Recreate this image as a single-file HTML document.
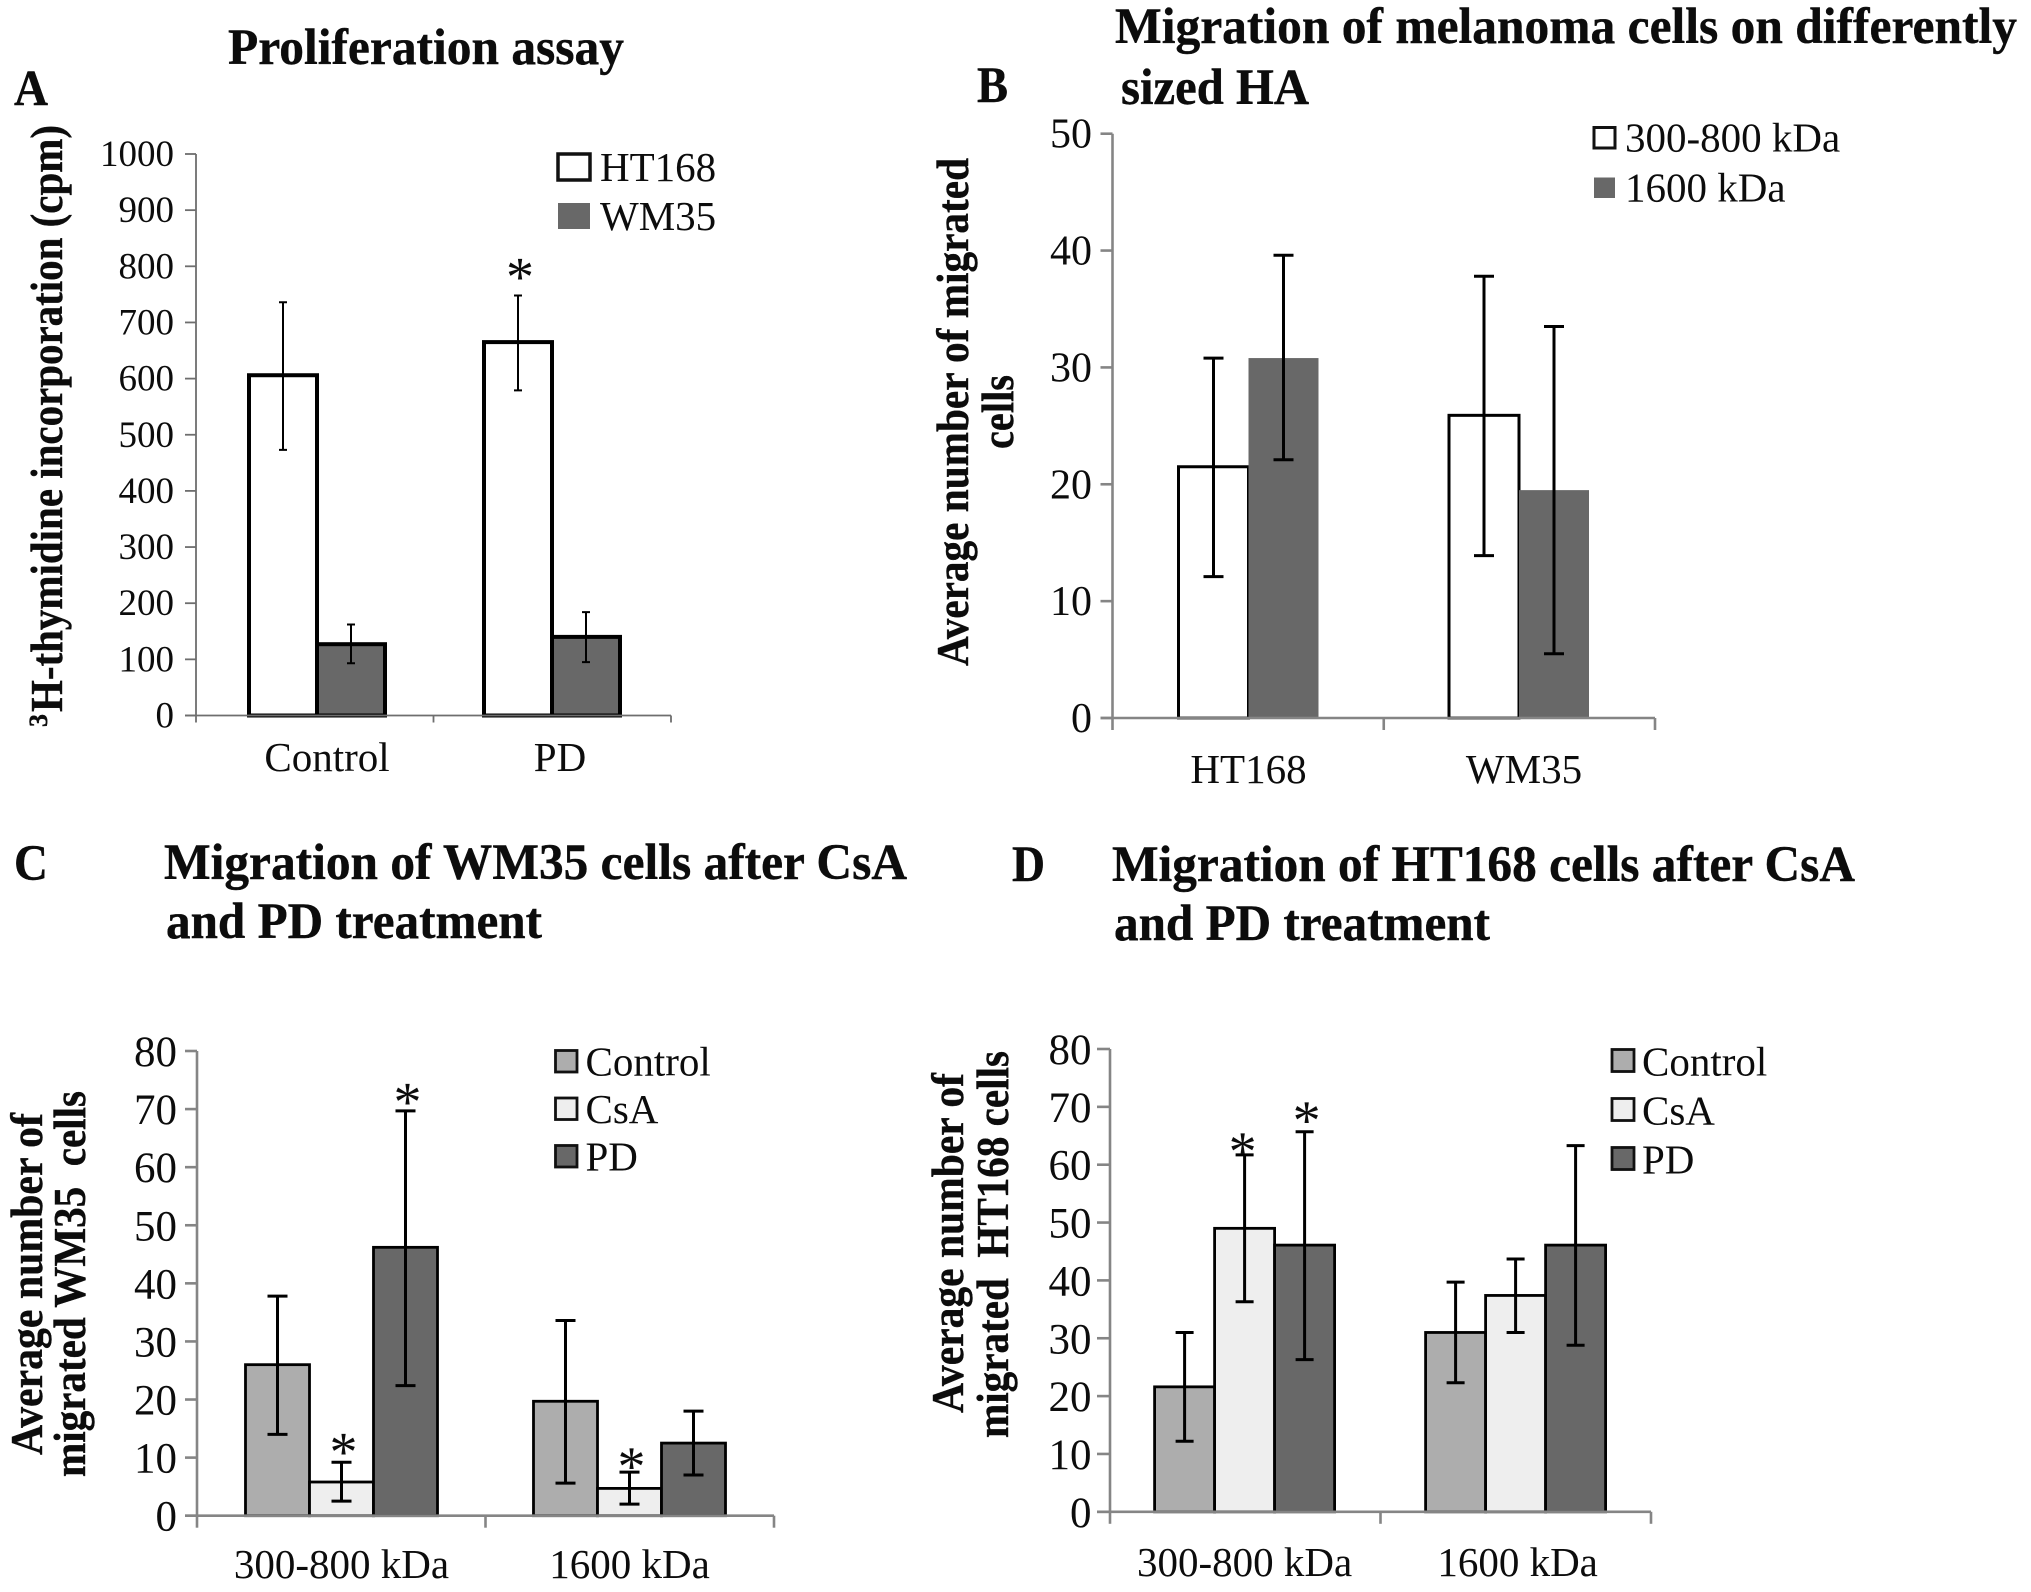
<!DOCTYPE html>
<html>
<head>
<meta charset="utf-8">
<title>Melanoma cell proliferation and migration</title>
<style>
html,body{margin:0;padding:0;background:#fff;}
svg{display:block;}
text{font-family:"Liberation Serif",serif;fill:#0c0c0c;}
.h{font-weight:bold;font-size:51px;stroke:#0c0c0c;stroke-width:.4px;}
.yt{font-weight:bold;font-size:46px;stroke:#0c0c0c;stroke-width:.4px;}
</style>
</head>
<body>
<svg id="figure" width="2031" height="1592" viewBox="0 0 2031 1592" xmlns="http://www.w3.org/2000/svg">
  <text class="h" x="228" y="64" textLength="396" lengthAdjust="spacingAndGlyphs">Proliferation assay</text>
  <text class="h" x="14" y="105" textLength="34" lengthAdjust="spacingAndGlyphs">A</text>
  <text class="yt" style="font-size:26px" transform="translate(47 727) rotate(-90)">3</text>
  <text class="yt" transform="translate(62 712) rotate(-90)" textLength="587" lengthAdjust="spacingAndGlyphs">H-thymidine incorporation (cpm)</text>

  <text class="h" x="1115" y="43" textLength="902" lengthAdjust="spacingAndGlyphs">Migration of melanoma cells on differently</text>
  <text class="h" x="1121" y="104" textLength="188" lengthAdjust="spacingAndGlyphs">sized HA</text>
  <text class="h" x="977" y="102" textLength="31" lengthAdjust="spacingAndGlyphs">B</text>
  <text class="yt" transform="translate(968 666) rotate(-90)" textLength="508" lengthAdjust="spacingAndGlyphs">Average number of migrated</text>
  <text class="yt" transform="translate(1013 449) rotate(-90)" textLength="74" lengthAdjust="spacingAndGlyphs">cells</text>

  <text class="h" x="164" y="879" textLength="743" lengthAdjust="spacingAndGlyphs">Migration of WM35 cells after CsA</text>
  <text class="h" x="166" y="938" textLength="376" lengthAdjust="spacingAndGlyphs">and PD treatment</text>
  <text class="h" x="14" y="880" textLength="34" lengthAdjust="spacingAndGlyphs">C</text>
  <text class="yt" transform="translate(42 1455) rotate(-90)" textLength="342" lengthAdjust="spacingAndGlyphs">Average number of</text>
  <text class="yt" xml:space="preserve" style="white-space:pre" transform="translate(85 1477) rotate(-90)" textLength="386" lengthAdjust="spacingAndGlyphs">migrated WM35  cells</text>

  <text class="h" x="1112" y="881" textLength="743" lengthAdjust="spacingAndGlyphs">Migration of HT168 cells after CsA</text>
  <text class="h" x="1114" y="940" textLength="376" lengthAdjust="spacingAndGlyphs">and PD treatment</text>
  <text class="h" x="1012" y="881" textLength="33" lengthAdjust="spacingAndGlyphs">D</text>
  <text class="yt" transform="translate(963 1413) rotate(-90)" textLength="340" lengthAdjust="spacingAndGlyphs">Average number of</text>
  <text class="yt" style="white-space:pre" transform="translate(1008 1438) rotate(-90)" textLength="387" lengthAdjust="spacingAndGlyphs">migrated  HT168 cells</text>
</svg>
<script>
// Panel A data
const aCategories = ['Control', 'PD'];
const aTicks = [0, 100, 200, 300, 400, 500, 600, 700, 800, 900, 1000];
const aNames = ['HT168', 'WM35'];
const aHT168 = [606, 665];
const aHT168Low = [473, 579];
const aHT168High = [736, 748];
const aWM35 = [127, 140];
const aWM35Low = [93, 95];
const aWM35High = [162, 184];
const aStarHT168 = [null, 775];
const aStarWM35 = [null, null];

// Panel B data
const bCategories = ['HT168', 'WM35'];
const bTicks = [0, 10, 20, 30, 40, 50];
const bNames = ['300-800 kDa', '1600 kDa'];
const bSmall = [21.5, 25.9];
const bSmallLow = [12.1, 13.9];
const bSmallHigh = [30.8, 37.8];
const bLarge = [30.8, 19.5];
const bLargeLow = [22.1, 5.5];
const bLargeHigh = [39.6, 33.5];

// Panel C data
const cCategories = ['300-800 kDa', '1600 kDa'];
const cTicks = [0, 10, 20, 30, 40, 50, 60, 70, 80];
const cNames = ['Control', 'CsA', 'PD'];
const cControl = [26, 19.7];
const cControlLow = [14, 5.6];
const cControlHigh = [37.8, 33.6];
const cCsA = [5.8, 4.7];
const cCsALow = [2.5, 2];
const cCsAHigh = [9.2, 7.5];
const cPD = [46.2, 12.5];
const cPDLow = [22.4, 7];
const cPDHigh = [69.7, 18];
const cStarCsA = [10.4, 7.9];
const cStarPD = [70.6, null];

// Panel D data
const dCategories = ['300-800 kDa', '1600 kDa'];
const dTicks = [0, 10, 20, 30, 40, 50, 60, 70, 80];
const dNames = ['Control', 'CsA', 'PD'];
const dControl = [21.6, 31];
const dControlLow = [12.2, 22.3];
const dControlHigh = [31, 39.7];
const dCsA = [49, 37.4];
const dCsALow = [36.3, 31];
const dCsAHigh = [61.7, 43.7];
const dPD = [46.1, 46.1];
const dPDLow = [26.3, 28.8];
const dPDHigh = [65.7, 63.3];
const dStarCsA = [61.7, null];
const dStarPD = [67, null];

const NS = 'http://www.w3.org/2000/svg';
const fig = document.getElementById('figure');
function make(tag, attrs, parent) {
  const n = document.createElementNS(NS, tag);
  for (const k in attrs) n.setAttribute(k, attrs[k]);
  parent.appendChild(n);
  return n;
}

function drawPanel(p) {
  const g = make('g', {}, fig);
  
  
  const yMaxValue = p.ticks[p.ticks.length - 1];
  const yOf = v => p.y0 - v * (p.y0 - p.yTop) / yMaxValue;
  const catX = i => p.catStart + i * p.catStep;
  const n = p.series.length;
  const barX = (c, s) => catX(c) + (s - n / 2) * p.barW;

  p.series.forEach((s, si) => {
    s.values.forEach((v, c) => {
      const r = make('rect', {
        x: barX(c, si), y: yOf(v), width: p.barW, height: p.y0 - yOf(v),
        fill: s.fill, stroke: s.stroke ? '#000' : 'none', 'stroke-width': s.stroke ? p.barStroke : 0
      }, g);
      
      
    });
  });

  const axisY = make('line', {x1: p.x0, x2: p.x0, y1: p.yTop, y2: p.y0, stroke: p.axisColor, 'stroke-width': p.axisW}, g);
  
  
  const axisX = make('line', {x1: p.tickLeft, x2: p.xEnd, y1: p.y0, y2: p.y0, stroke: p.axisColor, 'stroke-width': p.axisW}, g);
  
  

  p.ticks.forEach(t => {
    const mark = make('line', {x1: p.tickLeft, x2: p.x0, y1: yOf(t), y2: yOf(t), stroke: p.axisColor, 'stroke-width': p.axisW}, g);
    
    
    const label = make('text', {x: p.tickRight, y: yOf(t) + p.tickBase, 'text-anchor': 'end', 'font-size': p.tickFont}, g);
    label.textContent = t;
    
    
  });

  [p.x0, (p.x0 + p.xEnd) / 2, p.xEnd].forEach((x, i) => {
    const mark = make('line', {x1: x, x2: x, y1: p.y0, y2: p.y0 + p.xTick, stroke: p.axisColor, 'stroke-width': p.axisW}, g);
    
    
  });

  p.categories.forEach((c, i) => {
    const label = make('text', {x: catX(i) + p.catDx[i], y: p.catBase, 'text-anchor': 'middle', 'font-size': 41}, g);
    label.textContent = c;
    
    
  });

  p.series.forEach((s, si) => {
    s.values.forEach((v, c) => {
      const cx = barX(c, si) + p.barW / 2;
      const yl = yOf(s.low[c]), yh = yOf(s.high[c]);
      const e = make('path', {
        d: 'M' + cx + ' ' + yl + 'V' + yh +
           'M' + (cx - p.cap) + ' ' + yl + 'H' + (cx + p.cap) +
           'M' + (cx - p.cap) + ' ' + yh + 'H' + (cx + p.cap),
        fill: 'none', stroke: '#000', 'stroke-width': p.errW
      }, g);
      
      
      if (s.star && s.star[c] !== null) {
        const st = make('text', {x: cx + (s.starDx === undefined ? 2 : s.starDx), y: yOf(s.star[c]) + 15, 'text-anchor': 'middle', 'font-size': 56}, g);
        st.textContent = '*';
        
        
      }
    });
  });

  p.series.forEach((s, si) => {
    const top = p.legTop + si * p.legGap;
    const entry = make('g', {}, g);
    
    
    const hasStroke = s.legendStroke !== false && (s.stroke || p.legAllStroke);
    const box = make('rect', {
      x: p.legX, y: top, width: p.legW, height: p.legH, fill: s.fill,
      stroke: hasStroke ? '#111' : 'none', 'stroke-width': p.legStroke
    }, entry);
    
    
    const label = make('text', {x: p.legTextX, y: top + p.legH + p.legBase, 'font-size': 41}, entry);
    label.textContent = s.name;
    
    
  });
}

const GREY = '#ADADAD', LIGHT = '#EEEEEE', DARK = '#686868';

drawPanel({
  id: 'a', categories: aCategories, ticks: aTicks,
  x0: 196, xEnd: 671, yTop: 154, y0: 715.5, tickLeft: 185, tickRight: 174, tickFont: 37, tickBase: 12,
  axisColor: '#6e6e6e', axisW: 1.8, xTick: 7, catStart: 317, catStep: 235, barW: 68, barStroke: 4,
  errW: 2, cap: 4, catBase: 771, catDx: [10, 8],
  legX: 558, legW: 32, legH: 26, legTop: 154, legGap: 49, legStroke: 3.5, legTextX: 600, legBase: 1, legAllStroke: false,
  series: [
    {name: aNames[0], values: aHT168, low: aHT168Low, high: aHT168High, fill: '#fff', stroke: true, star: aStarHT168},
    {name: aNames[1], values: aWM35, low: aWM35Low, high: aWM35High, fill: DARK, stroke: true, star: aStarWM35, legendStroke: false}
  ]
});

drawPanel({
  id: 'b', categories: bCategories, ticks: bTicks,
  x0: 1112.5, xEnd: 1655, yTop: 133.7, y0: 718, tickLeft: 1100.5, tickRight: 1092, tickFont: 42, tickBase: 14,
  axisColor: '#858585', axisW: 2.6, xTick: 12, catStart: 1248.5, catStep: 270.5, barW: 70, barStroke: 3,
  errW: 3, cap: 10, catBase: 783, catDx: [0, 5],
  legX: 1594, legW: 21, legH: 20.5, legTop: 127.5, legGap: 50, legStroke: 3, legTextX: 1625, legBase: 3.5, legAllStroke: false,
  series: [
    {name: bNames[0], values: bSmall, low: bSmallLow, high: bSmallHigh, fill: '#fff', stroke: true},
    {name: bNames[1], values: bLarge, low: bLargeLow, high: bLargeHigh, fill: DARK, stroke: false}
  ]
});

drawPanel({
  id: 'c', categories: cCategories, ticks: cTicks,
  x0: 197, xEnd: 774, yTop: 1051, y0: 1515.7, tickLeft: 185, tickRight: 177, tickFont: 43, tickBase: 15,
  axisColor: '#858585', axisW: 2.6, xTick: 12, catStart: 341.5, catStep: 288, barW: 64, barStroke: 2.8,
  errW: 3, cap: 10, catBase: 1578, catDx: [0, 0],
  legX: 555.5, legW: 21.5, legH: 21.5, legTop: 1050.5, legGap: 47.5, legStroke: 2.8, legTextX: 585.5, legBase: 3.5, legAllStroke: true,
  series: [
    {name: cNames[0], values: cControl, low: cControlLow, high: cControlHigh, fill: GREY, stroke: true},
    {name: cNames[1], values: cCsA, low: cCsALow, high: cCsAHigh, fill: LIGHT, stroke: true, star: cStarCsA},
    {name: cNames[2], values: cPD, low: cPDLow, high: cPDHigh, fill: DARK, stroke: true, star: cStarPD}
  ]
});

drawPanel({
  id: 'd', categories: dCategories, ticks: dTicks,
  x0: 1110, xEnd: 1651, yTop: 1049, y0: 1511.8, tickLeft: 1097, tickRight: 1091.5, tickFont: 43, tickBase: 15,
  axisColor: '#858585', axisW: 2.6, xTick: 12, catStart: 1244.6, catStep: 271, barW: 60, barStroke: 2.8,
  errW: 3, cap: 9, catBase: 1576, catDx: [0, 2],
  legX: 1612, legW: 22, legH: 22, legTop: 1049.5, legGap: 49, legStroke: 2.8, legTextX: 1642, legBase: 4, legAllStroke: true,
  series: [
    {name: dNames[0], values: dControl, low: dControlLow, high: dControlHigh, fill: GREY, stroke: true},
    {name: dNames[1], values: dCsA, low: dCsALow, high: dCsAHigh, fill: LIGHT, stroke: true, star: dStarCsA, starDx: -2},
    {name: dNames[2], values: dPD, low: dPDLow, high: dPDHigh, fill: DARK, stroke: true, star: dStarPD}
  ]
});
</script>
</body>
</html>
